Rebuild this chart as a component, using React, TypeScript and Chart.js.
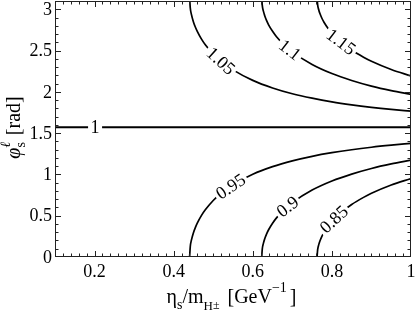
import { useEffect, useRef } from "react";
import { Chart, registerables } from "chart.js";

Chart.register(...registerables);

// Axis ranges and ticks
const X_MIN = 0.1;
const X_MAX = 1.0;
const Y_MIN = 0;
const Y_MAX = 3.1;
const X_MAJOR = [0.2, 0.4, 0.6, 0.8, 1.0];
const X_MAJOR_LABELS = ["0.2", "0.4", "0.6", "0.8", "1"];
const Y_MAJOR = [0, 0.5, 1, 1.5, 2, 2.5, 3];
const Y_MAJOR_LABELS = ["0", "0.5", "1", "1.5", "2", "2.5", "3"];
const X_MINOR_STEP = 0.02;
const Y_MINOR_STEP = 0.1;

// Contour level 1 (horizontal)
const C100_X = [0.1, 1.0];
const C100_Y = [1.5708, 1.5708];

// Contour 0.95 / 1.05
const C095_X = [0.4403, 0.442, 0.445, 0.45, 0.455, 0.46, 0.47, 0.48, 0.5, 0.52, 0.55, 0.6, 0.65, 0.7, 0.75, 0.8, 0.85, 0.9, 0.95, 1.0];
const C095_Y = [0, 0.127, 0.207, 0.295, 0.359, 0.413, 0.501, 0.571, 0.684, 0.772, 0.875, 1.002, 1.094, 1.164, 1.219, 1.263, 1.299, 1.329, 1.354, 1.376];
const C105_X = C095_X;
const C105_Y = [3.142, 3.015, 2.935, 2.847, 2.782, 2.729, 2.641, 2.569, 2.457, 2.370, 2.266, 2.139, 2.047, 1.977, 1.923, 1.878, 1.842, 1.812, 1.787, 1.766];

// Contour 0.9 / 1.1
const C090_X = [0.6226, 0.624, 0.627, 0.63, 0.635, 0.64, 0.65, 0.66, 0.68, 0.7, 0.75, 0.8, 0.85, 0.9, 0.95, 1.0];
const C090_Y = [0, 0.096, 0.168, 0.217, 0.28, 0.33, 0.409, 0.474, 0.577, 0.658, 0.81, 0.92, 1.004, 1.072, 1.127, 1.173];
const C110_X = C090_X;
const C110_Y = [3.142, 3.046, 2.974, 2.925, 2.862, 2.812, 2.733, 2.668, 2.565, 2.484, 2.332, 2.222, 2.138, 2.07, 2.015, 1.969];

// Contour 0.85 / 1.15
const C085_X = [0.7625, 0.764, 0.767, 0.77, 0.775, 0.78, 0.79, 0.8, 0.82, 0.85, 0.88, 0.9, 0.95, 1.0];
const C085_Y = [0, 0.089, 0.153, 0.197, 0.254, 0.299, 0.371, 0.431, 0.526, 0.636, 0.722, 0.771, 0.871, 0.95];
const C115_X = C085_X;
const C115_Y = [3.142, 3.053, 2.989, 2.945, 2.888, 2.843, 2.771, 2.711, 2.616, 2.506, 2.42, 2.371, 2.271, 2.192];

const CURVES = [
  { name: "1", xs: C100_X, ys: C100_Y, labelX: 0.2013 },
  { name: "1.05", xs: C105_X, ys: C105_Y, labelX: 0.519 },
  { name: "1.1", xs: C110_X, ys: C110_Y, labelX: 0.694 },
  { name: "1.15", xs: C115_X, ys: C115_Y, labelX: 0.823 },
  { name: "0.95", xs: C095_X, ys: C095_Y, labelX: 0.544 },
  { name: "0.9", xs: C090_X, ys: C090_Y, labelX: 0.688 },
  { name: "0.85", xs: C085_X, ys: C085_Y, labelX: 0.805 },
];

const FONT = "'Liberation Serif', 'Times New Roman', serif";

type Piece = { t: string; size: number; dy?: number; italic?: boolean; noAdvance?: boolean; gap?: number };

function drawPieces(ctx: CanvasRenderingContext2D, pieces: Piece[], cx: number, by: number) {
  const widths = pieces.map((p) => {
    ctx.font = `${p.italic ? "italic " : ""}${p.size}px ${FONT}`;
    return ctx.measureText(p.t).width;
  });
  let total = 0;
  pieces.forEach((p, i) => {
    total += p.gap || 0;
    if (!p.noAdvance) total += widths[i];
  });
  let x = cx - total / 2;
  ctx.textAlign = "left";
  ctx.textBaseline = "alphabetic";
  pieces.forEach((p, i) => {
    x += p.gap || 0;
    ctx.font = `${p.italic ? "italic " : ""}${p.size}px ${FONT}`;
    ctx.fillText(p.t, x, by + (p.dy || 0));
    if (!p.noAdvance) x += widths[i];
  });
}

const framePlugin = {
  id: "framePlugin",
  afterDatasetsDraw(chart: any) {
    const ctx: CanvasRenderingContext2D = chart.ctx;
    const xs = chart.scales.x;
    // contour labels
    CURVES.forEach((c, di) => {
      const meta = chart.getDatasetMeta(di);
      const pts = meta.data;
      const lx = c.labelX;
      let i = 0;
      while (i < c.xs.length - 2 && c.xs[i + 1] < lx) i++;
      const x0 = c.xs[i], x1 = c.xs[i + 1];
      const t = (lx - x0) / (x1 - x0);
      const px = xs.getPixelForValue(lx);
      const py = pts[i].y + t * (pts[i + 1].y - pts[i].y);
      const a0 = Math.max(0, i - 1);
      const a1 = Math.min(pts.length - 1, i + 2);
      const ang = Math.atan2(pts[a1].y - pts[a0].y, pts[a1].x - pts[a0].x);
      ctx.save();
      ctx.translate(px, py);
      ctx.rotate(ang);
      ctx.font = `18px ${FONT}`;
      const w = ctx.measureText(c.name).width;
      ctx.fillStyle = "#ffffff";
      ctx.fillRect(-w / 2 - 2.5, -6, w + 5, 12);
      ctx.fillStyle = "#000000";
      ctx.textAlign = "center";
      ctx.textBaseline = "middle";
      ctx.fillText(c.name, 0, 1);
      ctx.restore();
    });
  },
  afterDraw(chart: any) {
    const ctx: CanvasRenderingContext2D = chart.ctx;
    const { left, right, top, bottom } = chart.chartArea;
    const xs = chart.scales.x;
    const ys = chart.scales.y;
    ctx.save();
    ctx.strokeStyle = "#222222";
    ctx.lineWidth = 1;
    ctx.strokeRect(left + 0.5, top + 0.5, right - left - 1, bottom - top - 1);
    ctx.beginPath();
    for (let v = X_MIN + X_MINOR_STEP; v < X_MAX - 1e-6; v += X_MINOR_STEP) {
      const p = Math.round(xs.getPixelForValue(v)) + 0.5;
      const major = X_MAJOR.some((m) => Math.abs(m - v) < 1e-6);
      const len = major ? 6 : 3.5;
      ctx.moveTo(p, bottom);
      ctx.lineTo(p, bottom - len);
      ctx.moveTo(p, top);
      ctx.lineTo(p, top + len);
    }
    for (let v = Y_MIN + Y_MINOR_STEP; v < Y_MAX - 1e-6; v += Y_MINOR_STEP) {
      const p = Math.round(ys.getPixelForValue(v)) + 0.5;
      const major = Y_MAJOR.some((m) => Math.abs(m - v) < 1e-6);
      const len = major ? 6 : 3.5;
      ctx.moveTo(left, p);
      ctx.lineTo(left + len, p);
      ctx.moveTo(right, p);
      ctx.lineTo(right - len, p);
    }
    ctx.stroke();

    ctx.fillStyle = "#000000";
    ctx.font = `18px ${FONT}`;
    ctx.textAlign = "center";
    ctx.textBaseline = "middle";
    X_MAJOR.forEach((v, i) => {
      ctx.fillText(X_MAJOR_LABELS[i], xs.getPixelForValue(v), bottom + 15);
    });
    ctx.textAlign = "right";
    Y_MAJOR.forEach((v, i) => {
      ctx.fillText(Y_MAJOR_LABELS[i], left - 3, ys.getPixelForValue(v) + 1);
    });

    // x title
    drawPieces(
      ctx,
      [
        { t: "η", size: 20 },
        { t: "s", size: 14, dy: 6 },
        { t: "/m", size: 20 },
        { t: "H", size: 13, dy: 7 },
        { t: "±", size: 12, dy: 6 },
        { t: " [GeV", size: 20, gap: 3 },
        { t: "−1", size: 14, dy: -11 },
        { t: "]", size: 20, gap: 3 },
      ],
      231.5,
      303
    );

    // y title
    ctx.save();
    ctx.translate(20, 127.5);
    ctx.rotate(-Math.PI / 2);
    drawPieces(
      ctx,
      [
        { t: "φ", size: 20, italic: true },
        { t: "ℓ", size: 14, dy: -10, italic: true, noAdvance: true },
        { t: "s", size: 14, dy: 5 },
        { t: " [rad]", size: 20, gap: 2 },
      ],
      0,
      0
    );
    ctx.restore();
    ctx.restore();
  },
};

export default function App() {
  const ref = useRef<HTMLCanvasElement>(null);
  useEffect(() => {
    document.body.style.margin = "0";
    const datasets = CURVES.map((c) => ({
      label: c.name,
      data: c.xs.map((x, i) => ({ x, y: c.ys[i] })),
      showLine: true,
      borderColor: "#000000",
      backgroundColor: "#000000",
      borderWidth: c.name === "1" ? 2 : 1.7,
      pointRadius: 0,
      cubicInterpolationMode: "monotone" as const,
      fill: false,
    }));
    const chart = new Chart(ref.current!, {
      type: "scatter",
      data: { datasets },
      options: {
        responsive: false,
        animation: false,
        devicePixelRatio: 1,
        layout: { padding: { left: 55, right: 4, top: 1, bottom: 56 } },
        scales: {
          x: { type: "linear", min: X_MIN, max: X_MAX, display: false },
          y: { type: "linear", min: Y_MIN, max: Y_MAX, display: false },
        },
        plugins: { legend: { display: false }, tooltip: { enabled: false } },
      },
      plugins: [framePlugin],
    });
    return () => chart.destroy();
  }, []);
  return (
    <div style={{ width: 415, height: 313 }}>
      <canvas ref={ref} width={415} height={313} style={{ display: "block" }} />
    </div>
  );
}
